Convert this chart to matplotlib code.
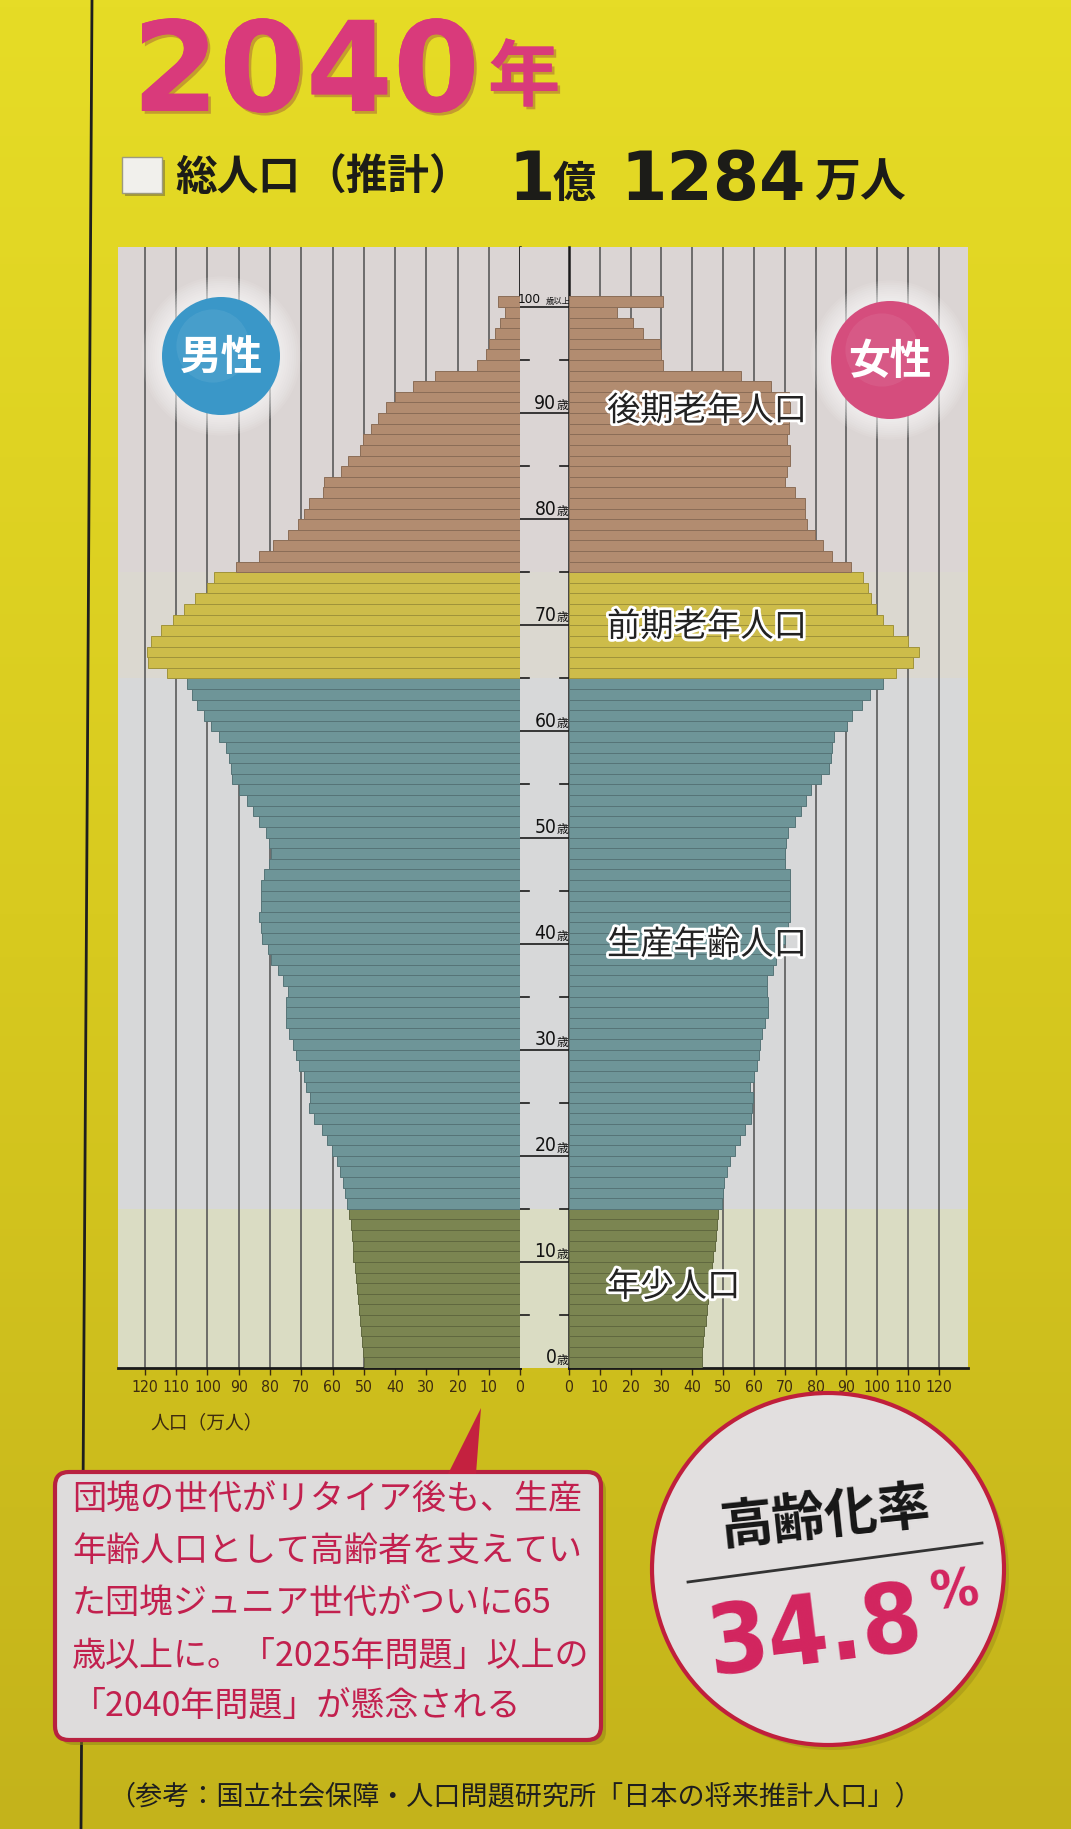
import os
import numpy as np
import matplotlib
matplotlib.use('Agg')
import matplotlib.pyplot as plt
import matplotlib.patheffects as pe
from matplotlib import font_manager as fm
from matplotlib.colors import LinearSegmentedColormap, to_rgb
from matplotlib.patches import Rectangle, Circle, FancyBboxPatch, Polygon

plt.rcParams['font.family'] = ['Noto Sans CJK JP', 'DejaVu Sans']

# look for a condensed latin face for the tall narrow digits
font_files = {os.path.basename(f.fname): f.fname for f in fm.fontManager.ttflist}


def font_file(*cands):
    for c in cands:
        if c in font_files:
            return font_files[c]
    return None


NARROW_REG = font_file('NotoSans-ExtraCondensed.ttf', 'NotoSans-Condensed.ttf',
                       'LiberationSansNarrow-Regular.ttf', 'DejaVuSansCondensed.ttf')
NARROW_BOLD = font_file('NotoSans-ExtraCondensedBold.ttf', 'NotoSans-CondensedBold.ttf',
                        'LiberationSansNarrow-Bold.ttf', 'DejaVuSansCondensed-Bold.ttf')


def narrow(size, bold=False):
    path = NARROW_BOLD if bold else NARROW_REG
    if path:
        return fm.FontProperties(fname=path, size=size)
    return fm.FontProperties(family='DejaVu Sans', weight='bold' if bold else 'normal', size=size)


# ---- data (万人), age 0..99 and 100+ ----
ages = np.arange(0, 101)
male = [49.9, 50.3, 50.7, 51.0, 51.2, 51.4, 51.7, 52.3, 52.5, 52.8,
        53.3, 53.5, 53.9, 54.2, 54.6, 55.3, 56.0, 56.5, 57.6, 58.7,
        60.3, 61.9, 63.5, 65.9, 67.4, 67.2, 68.4, 69.0, 70.6, 71.7,
        72.7, 73.8, 74.9, 74.9, 74.9, 74.3, 75.9, 77.5, 79.7, 80.7,
        82.4, 82.9, 83.4, 83.0, 82.9, 82.9, 81.8, 80.2, 79.7, 80.2,
        81.3, 83.4, 85.6, 87.2, 89.8, 92.0, 92.5, 93.0, 94.1, 96.3,
        98.9, 101.0, 103.2, 104.8, 106.5, 113.0, 119.0, 119.5, 118.0, 115.0,
        111.0, 107.5, 104.0, 100.0, 98.0, 90.9, 83.4, 79.1, 74.3, 71.1,
        69.0, 67.4, 63.1, 62.6, 57.2, 55.0, 51.3, 50.3, 47.8, 45.5,
        42.8, 40.0, 34.2, 27.3, 13.9, 11.0, 10.0, 8.0, 6.4, 4.8, 7.0]
female = [43.0, 43.3, 43.6, 43.9, 44.3, 44.6, 45.0, 45.5, 46.0, 46.4,
          46.8, 47.2, 47.6, 48.0, 48.4, 49.5, 49.8, 50.2, 51.1, 52.2,
          53.8, 55.4, 57.0, 58.9, 59.5, 59.7, 58.8, 59.9, 61.0, 61.5,
          62.0, 62.6, 63.6, 64.7, 64.7, 64.1, 64.1, 66.3, 67.3, 69.5,
          70.0, 71.0, 71.6, 71.6, 71.6, 71.6, 71.6, 70.0, 70.0, 70.5,
          71.1, 73.2, 75.3, 76.9, 78.5, 81.7, 84.4, 84.9, 85.4, 86.0,
          90.2, 91.8, 95.0, 97.7, 101.9, 106.0, 111.5, 113.6, 110.0, 105.0,
          101.8, 99.7, 98.0, 97.0, 95.4, 91.6, 85.2, 82.5, 79.8, 77.2,
          76.6, 76.6, 73.4, 70.2, 70.7, 71.6, 71.8, 70.7, 71.3, 71.3,
          71.8, 71.3, 65.4, 55.7, 30.5, 30.0, 29.5, 24.1, 20.9, 15.5, 30.5]

group_names = ['年少人口', '生産年齢人口', '前期老年人口', '後期老年人口']
group_edges = [0, 15, 65, 75, 101]
group_colors = ['#7b8551', '#6e9598', '#cdbc4a', '#b28c70']
band_colors = ['#dadcc3', '#d7d8d9', '#dbd8d0', '#dbd5d4']
xticks = list(range(0, 121, 10))
age_labels = list(range(0, 100, 10))

title_year = '2040'
total_parts = ['総人口', '（推計）', '1', '億', '1284', '万人']
aging_rate = '34.8'
note_lines = ['団塊の世代がリタイア後も、生産',
              '年齢人口として高齢者を支えてい',
              'た団塊ジュニア世代がついに65',
              '歳以上に。「2025年問題」以上の',
              '「2040年問題」が懸念される']
source = '（参考：国立社会保障・人口問題研究所「日本の将来推計人口」）'

# ---- figure in pixel units ----
W, H = 1071, 1829
fig = plt.figure(figsize=(W / 100, H / 100), dpi=100)
renderer = fig.canvas.get_renderer()


def size_for_width(text, target_px, bold=False):
    # font size of the narrow face that makes `text` about target_px wide
    t = fig.text(0, 0, text, fontproperties=narrow(20, bold))
    w = t.get_window_extent(renderer).width
    t.remove()
    return 20 * target_px / w


def px_axes(x0, y0, x1, y1, **kw):
    return fig.add_axes([x0 / W, 1 - y1 / H, (x1 - x0) / W, (y1 - y0) / H], **kw)


bg = px_axes(0, 0, W, H, zorder=0)
bg.set_xlim(0, W)
bg.set_ylim(H, 0)
bg.axis('off')
page = LinearSegmentedColormap.from_list('page', ['#e6dc26', '#d8ca1f', '#c4b31b'])
bg.imshow(np.linspace(0, 1, 256)[:, None], extent=(0, W, H, 0), cmap=page, aspect='auto')
bg.plot([92, 81], [0, H], color='#1e1e1e', lw=2)

# plot area: rows 0..105.6 between y=1368 and y=247
PX_PER_AGE = 10.61
top_age = (1368 - 247) / PX_PER_AGE
axL = px_axes(118, 247, 520, 1368, zorder=2)
axC = px_axes(520, 247, 569, 1368, zorder=2)
axR = px_axes(569, 247, 968, 1368, zorder=2)

bar_cols = [group_colors[np.searchsorted(group_edges, a, side='right') - 1] for a in ages]
edge_cols = [tuple(c * 0.78 for c in to_rgb(col)) for col in bar_cols]

for ax in (axL, axC, axR):
    ax.set_ylim(0, top_age)
    ax.set_facecolor('none')
    tops = group_edges[1:-1] + [top_age]
    for lo, hi, c in zip(group_edges[:-1], tops, band_colors):
        ax.axhspan(lo, hi, color=c, zorder=0, lw=0)
    ax.set_yticks([])

axL.set_xlim((520 - 118) / 3.125, 0)
axR.set_xlim(0, (968 - 569) / 3.083)
axL.barh(ages, male, height=1, align='edge', color=bar_cols, edgecolor=edge_cols, linewidth=0.7, zorder=3)
axR.barh(ages, female, height=1, align='edge', color=bar_cols, edgecolor=edge_cols, linewidth=0.7, zorder=3)

tick_size = size_for_width('120', 27)
for ax, side in ((axL, 'right'), (axR, 'left')):
    ax.set_axisbelow(True)
    ax.set_xticks(xticks)
    ax.set_xticklabels([str(v) for v in xticks], fontproperties=narrow(tick_size))
    ax.grid(axis='x', color='#4f4f4f', lw=1.1)
    ax.tick_params(axis='x', direction='out', length=5, width=1, colors='#3d2b10', pad=4)
    for s in ('top', 'left', 'right'):
        ax.spines[s].set_visible(False)
    ax.spines[side].set_visible(True)
    ax.spines[side].set_linewidth(1.8)
    ax.spines['bottom'].set_linewidth(2)
    ax.spines[side].set_color('#1a1a1a')
    ax.spines['bottom'].set_color('#1a1a1a')

# center age column
axC.set_xlim(0, 1)
axC.axis('off')
for a in range(5, 100, 10):
    axC.plot([0, 0.18], [a, a], color='#1a1a1a', lw=1.2)
    axC.plot([0.82, 1], [a, a], color='#1a1a1a', lw=1.2)
for a in age_labels[1:] + [100]:
    axC.plot([0, 1], [a, a], color='#1a1a1a', lw=1.2)
age_size = size_for_width('90', 22)
for a in age_labels:
    axC.text(0.74, a + 0.05, str(a), ha='right', va='bottom', fontproperties=narrow(age_size), color='#111')
    axC.text(0.99, a + 0.1, '歳', ha='right', va='bottom', fontsize=8.5, color='#111')
axC.text(0.42, 100.05, '100', ha='right', va='bottom', fontproperties=narrow(age_size * 0.7), color='#111')
axC.text(1.04, 100.1, '歳以上', ha='right', va='bottom', fontsize=6, color='#111')

# ---- overlay ----
ov = px_axes(0, 0, W, H, zorder=6)
ov.set_xlim(0, W)
ov.set_ylim(H, 0)
ov.axis('off')

pink = '#d93a7b'
shadow = [pe.withSimplePatchShadow(offset=(2, -2), shadow_rgbFace='#8a2a40', alpha=0.35), pe.Normal()]
ov.text(132, 111, title_year, fontsize=90, fontweight='bold', color=pink,
        family='DejaVu Sans', va='baseline', path_effects=shadow)
ov.text(488, 100, '年', fontsize=52, fontweight='bold', color=pink, va='baseline', path_effects=shadow)

ov.add_patch(Rectangle((125, 160), 40, 36, fc='#a59a30', ec='none'))
ov.add_patch(Rectangle((122, 157), 40, 36, fc='#f1f0ec', ec='#9d9a80', lw=1))
dark = '#1c1c18'
ov.text(175, 178, total_parts[0], fontsize=30, fontweight='bold', color=dark, va='center')
ov.text(304, 178, total_parts[1], fontsize=30, fontweight='bold', color=dark, va='center')
ov.text(508, 200, total_parts[2], fontsize=48, fontweight='bold', family='DejaVu Sans', color=dark, va='baseline')
ov.text(553, 197, total_parts[3], fontsize=31, fontweight='bold', color=dark, va='baseline')
ov.text(620, 200, total_parts[4], fontsize=48, fontweight='bold', family='DejaVu Sans', color=dark, va='baseline')
ov.text(814, 197, total_parts[5], fontsize=33, fontweight='bold', color=dark, va='baseline')

# sex badges
for cx, cy, r, col, lab in [(221, 356, 59, '#3a97c8', '男性'), (890, 360, 59, '#d54d7d', '女性')]:
    for i in range(9):
        ov.add_patch(Circle((cx, cy), r + 3 + i * 2.2, fc='white', ec='none', alpha=0.09))
    ov.add_patch(Circle((cx, cy), r, fc=col, ec='none'))
    ov.add_patch(Circle((cx - 8, cy - 10), r * 0.62, fc='white', ec='none', alpha=0.07))
    ov.text(cx, cy + 2, lab, color='white', fontsize=30, fontweight='bold', ha='center', va='center')

# group labels
outline = [pe.withStroke(linewidth=4, foreground='white')]
for name, y in zip(group_names, [1287, 945, 627, 411]):
    ov.text(607, y, name, fontsize=24, color='#222', va='center', path_effects=outline)

ov.text(150, 1423, '人口（万人）', fontsize=13.5, color='#3d2b10', va='center')

# callout
red = '#b8213f'
ov.add_patch(FancyBboxPatch((60, 1477), 546, 268, boxstyle='round,pad=0,rounding_size=14',
                            fc='#8f8116', ec='none', alpha=0.5))
ov.add_patch(FancyBboxPatch((55, 1472), 546, 268, boxstyle='round,pad=0,rounding_size=14',
                            fc='#dedcdc', ec=red, lw=3))
ov.add_patch(Polygon([(448, 1474), (476, 1474), (481, 1408)], closed=True, fc='#c4213f', ec='none'))
for line, y in zip(note_lines, [1500, 1552, 1604, 1656, 1706]):
    ov.text(72, y, line, fontsize=24.5, color='#c2204e', va='center')

# aging rate circle
ov.add_patch(Circle((833, 1574), 176, fc='#9a8a18', ec='none', alpha=0.45))
ov.add_patch(Circle((828, 1569), 176, fc='#e2dfdf', ec='#c01f3c', lw=3))
ov.text(826, 1517, '高齢化率', fontsize=38, fontweight='bold', color='#161616',
        ha='center', va='center', rotation=6, rotation_mode='anchor')
ov.plot([688, 982], [1582, 1543], color='#333', lw=2)
rate_size = size_for_width(aging_rate, 215, bold=True)
ov.text(815, 1636, aging_rate, fontproperties=narrow(rate_size, bold=True), color='#d2245e',
        ha='center', va='center', rotation=7, rotation_mode='anchor')
ov.text(955, 1592, '%', fontproperties=narrow(rate_size * 0.55, bold=True), color='#d2245e',
        ha='center', va='center', rotation=7, rotation_mode='anchor')

ov.text(108, 1797, source, fontsize=19.5, color='#1e1e1e', va='center')

fig.savefig('out.png', dpi=100)
